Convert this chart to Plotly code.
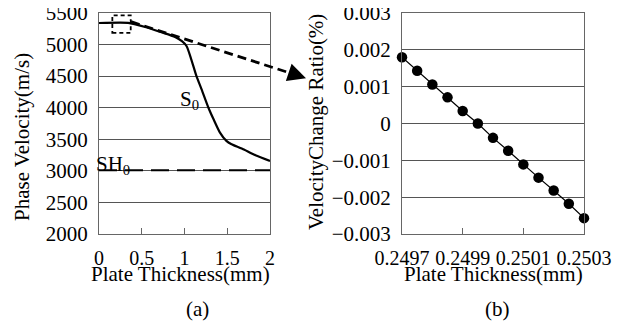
import plotly.graph_objects as go

# Panel (a): phase velocity vs plate thickness
thick_a = [0.0, 0.34, 0.54, 0.73, 0.89, 0.97, 1.025, 1.08, 1.14, 1.20, 1.28, 1.34,
           1.415, 1.49, 1.55, 1.67, 1.83, 2.0]
s0_vel = [5342, 5345, 5279, 5195, 5121, 5053, 4974, 4763, 4500, 4290, 4000, 3816,
          3605, 3474, 3421, 3353, 3247, 3158]
sh0_thick = [0.0, 2.0]
sh0_vel = [3010, 3010]

# Panel (b): velocity change ratio vs plate thickness
thick_b = [0.24970, 0.24975, 0.24980, 0.24985, 0.24990, 0.24995, 0.25000,
           0.25005, 0.25010, 0.25015, 0.25020, 0.25025, 0.25030]
ratio_b = [0.00180, 0.00143, 0.00106, 0.00071, 0.00034, 0.0, -0.00039,
           -0.00074, -0.00111, -0.00147, -0.00182, -0.00218, -0.00257]

yticks_a = [2000, 2500, 3000, 3500, 4000, 4500, 5000, 5500]
xticks_a = [0, 0.5, 1, 1.5, 2]
xtick_a_text = ["0", "0.5", "1", "1.5", "2"]
yticks_b = [-0.003, -0.002, -0.001, 0, 0.001, 0.002, 0.003]
ytick_b_text = ["\u22120.003", "\u22120.002", "\u22120.001", "0", "0.001", "0.002", "0.003"]
xticks_b = [0.2497, 0.2499, 0.2501, 0.2503]
xtick_b_text = ["0.2497", "0.2499", "0.2501", "0.2503"]

FONT = "Liberation Serif, Times New Roman, serif"
OFF = 8  # page body margin
W, H = 633 - OFF, 327 - OFF
MT = 13 - OFF
MB = H - (234 - OFF)
PH = H - MT - MB


def px(x):
    return (x - OFF) / W


def py(y):
    return (H - MB - (y - OFF)) / PH


fig = go.Figure()
fig.add_trace(go.Scatter(x=thick_a, y=s0_vel, mode="lines", line=dict(color="black", width=2.2),
                         line_shape="spline", line_smoothing=0.6,
                         xaxis="x", yaxis="y", showlegend=False))
fig.add_trace(go.Scatter(x=sh0_thick, y=sh0_vel, mode="lines",
                         line=dict(color="black", width=2.2, dash="18px,8px"),
                         xaxis="x", yaxis="y", showlegend=False))
fig.add_trace(go.Scatter(x=thick_b, y=ratio_b, mode="lines+markers",
                         line=dict(color="black", width=1.2),
                         marker=dict(color="black", size=10.5),
                         xaxis="x2", yaxis="y2", showlegend=False, cliponaxis=False))

xtickfont = dict(family=FONT, size=20, color="black")
ytickfont = dict(family=FONT, size=21, color="black")
xcommon = dict(showline=True, linecolor="#666", linewidth=1, mirror=True, automargin=False,
               ticks="inside", ticklen=6, tickcolor="#666", zeroline=False, tickangle=0,
               showgrid=False, tickfont=xtickfont, ticklabelstandoff=6,
               ticklabeloverflow="allow")
ycommon = dict(showline=True, linecolor="#666", linewidth=1, mirror=True, automargin=False,
               ticks="", zeroline=False, showgrid=True, gridcolor="#555", gridwidth=1,
               tickfont=ytickfont, ticklabelstandoff=6, ticklabeloverflow="allow")

fig.update_layout(
    width=W, height=H, autosize=False,
    margin=dict(l=0, r=0, t=MT, b=MB, pad=0),
    paper_bgcolor="white", plot_bgcolor="white",
    font=dict(family=FONT, color="black"),
    xaxis=dict(domain=[px(99), px(270)], range=[0, 2], tickvals=xticks_a, ticktext=xtick_a_text,
               anchor="y", **xcommon),
    yaxis=dict(domain=[0, 1], range=[2000, 5500], tickvals=yticks_a, anchor="x", **ycommon),
    xaxis2=dict(domain=[px(402), px(584)], range=[0.2497, 0.2503], tickvals=xticks_b,
                ticktext=xtick_b_text, anchor="y2", **xcommon),
    yaxis2=dict(domain=[0, 1], range=[-0.003, 0.003], tickvals=yticks_b, ticktext=ytick_b_text,
                anchor="x2", **ycommon),
)

# dashed box marking zoomed region
fig.add_shape(type="rect", xref="x", yref="y", x0=0.156, x1=0.371, y0=5184, y1=5462,
              line=dict(color="black", width=1.8, dash="4px,3px"))

# dashed connector arrow
fig.add_shape(type="line", xref="paper", yref="paper",
              x0=px(131), y0=py(21.7), x1=px(297), y1=py(75.3),
              line=dict(color="black", width=2.8, dash="9px,5px"))
fig.add_annotation(xref="paper", yref="paper", x=px(306), y=py(78.2), ax=-12, ay=-4,
                   showarrow=True, arrowhead=2, arrowsize=1.4, arrowwidth=2.6,
                   arrowcolor="black", text="")

ann_font = dict(family=FONT, size=21, color="black")


def label(x, y, text, angle=0):
    fig.add_annotation(xref="paper", yref="paper", x=px(x), y=py(y), text=text,
                       textangle=angle, showarrow=False, font=ann_font,
                       xanchor="center", yanchor="middle")


label(189, 100, "S<sub>0</sub>")
label(113, 165, "SH<sub>0</sub>")

# axis titles
label(22, 137, "Phase Velocity(m/s)", -90)
label(180, 274, "Plate Thickness(mm)")
label(316, 122, "VelocityChange Ratio(%)", -90)
label(493, 274, "Plate Thickness(mm)")

# panel labels
label(197, 309, "(a)")
label(497, 309, "(b)")

fig.write_html("out.html")
